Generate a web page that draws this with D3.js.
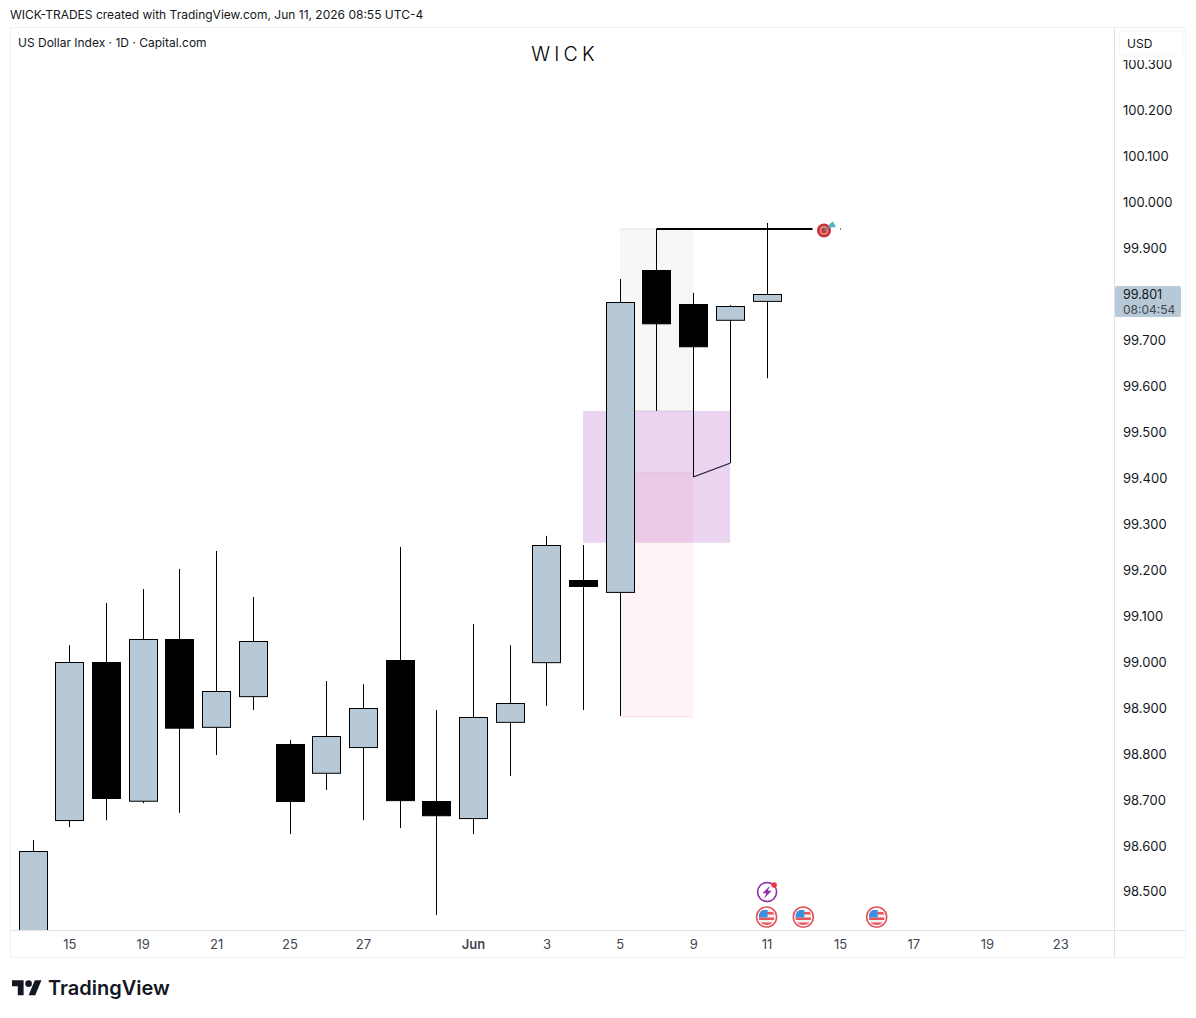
<!DOCTYPE html>
<html>
<head>
<meta charset="utf-8">
<script src="https://cdn.jsdelivr.net/npm/d3@7"></script>
<style>
body { margin: 0; background: #fff; }
text { font-family: Inter, "Noto Sans", sans-serif; }
</style>
</head>
<body>
<script>
// one entry per daily bar, 14 May onwards (future bars have no candle)
let days = ["14","15","18","19","20","21","22","25","26","27","28","29","Jun","2","3","4","5","8","9","10","11","12","15","16","17","18","19","22","23"];
let opens  = [98.40,98.654,98.998,98.696,99.048,98.857,98.924,98.820,98.757,98.813,99.003,98.696,98.659,98.868,98.998,99.177,99.151,99.852,99.778,99.743,99.784];
let highs  = [98.611,99.035,99.127,99.157,99.201,99.240,99.140,98.829,98.957,98.950,99.249,98.894,99.081,99.035,99.273,99.253,99.832,99.941,99.802,99.775,99.954];
let lows   = [98.35,98.639,98.654,98.691,98.670,98.796,98.894,98.624,98.720,98.654,98.637,98.448,98.624,98.750,98.903,98.894,98.881,99.545,99.401,99.431,99.616];
let closes = [98.587,98.998,98.702,99.048,98.855,98.935,99.044,98.696,98.837,98.898,98.698,98.665,98.879,98.909,99.253,99.164,99.782,99.736,99.686,99.773,99.799];

let priceTicks = [100.3,100.2,100.1,100.0,99.9,99.8,99.7,99.6,99.5,99.4,99.3,99.2,99.1,99.0,98.9,98.8,98.7,98.6,98.5];
let timeTickIdx = [1,3,5,7,9,12,14,16,18,20,22,24,26,28];

// drawings on the chart: [start bar, end bar, top price, bottom price]
let grayZone = [16, 18, 99.941, 99.545];
let mauveZone = [15, 19, 99.545, 99.258];
let pinkZone = [16, 18, 99.410, 98.879];
let targetPrice = 99.941;
let targetBars = [17, 21.25];
let pathBars = [18, 19];
let pathPrices = [99.401, 99.431];
let flagBars = [20, 21, 23];
let boltBar = 20;

let lastPrice = 99.801;
let countdown = "08:04:54";

let svgWidth = 1196;
let svgHeight = 1018;
let plot = { left: 11, right: 1114, top: 28, bottom: 930 };
let candleWidth = 28;

let svg = d3.select("body").append("svg")
    .attr("width", svgWidth)
    .attr("height", svgHeight)
    .style("display", "block");

let x = d3.scaleLinear().domain([0, 28]).range([32.6, 1060.2]);
let y = d3.scaleLinear().domain([98.5, 100.3]).range([891, 64]);

svg.append("text")
    .attr("x", 10).attr("y", 19)
    .attr("font-size", 12).attr("fill", "#131722")
    .text("WICK-TRADES created with TradingView.com, Jun 11, 2026 08:55 UTC-4");

svg.append("clipPath").attr("id", "plotClip").append("rect")
    .attr("x", plot.left).attr("y", plot.top)
    .attr("width", plot.right - plot.left).attr("height", plot.bottom - plot.top);

let chart = svg.append("g").attr("clip-path", "url(#plotClip)");

function zone(z, fill, stroke) {
    let x0 = Math.round(x(z[0]));
    let x1 = Math.round(x(z[1]));
    chart.append("rect")
        .attr("x", x0).attr("y", y(z[2]))
        .attr("width", x1 - x0).attr("height", y(z[3]) - y(z[2]))
        .attr("fill", fill);
    // thin edge lines on the top and bottom of the zone
    [z[2], z[3]].forEach(p => {
        chart.append("line")
            .attr("x1", x0).attr("x2", x1)
            .attr("y1", y(p)).attr("y2", y(p))
            .attr("stroke", stroke);
    });
}

zone(grayZone, "rgba(120,120,120,0.06)", "rgba(120,120,120,0.18)");
zone(pinkZone, "rgba(242,54,92,0.06)", "rgba(242,54,92,0.12)");
zone(mauveZone, "rgba(156,39,176,0.2)", "rgba(156,39,176,0)");

// candles
let bars = chart.selectAll(".bar").data(opens.map((o, i) => i)).enter().append("g").attr("class", "bar");

bars.append("line")
    .attr("x1", i => Math.round(x(i)) + 0.5).attr("x2", i => Math.round(x(i)) + 0.5)
    .attr("y1", i => y(highs[i])).attr("y2", i => y(lows[i]))
    .attr("stroke", "#000");

bars.append("rect")
    .attr("x", i => Math.round(x(i)) - candleWidth / 2 + 0.5)
    .attr("y", i => Math.round(y(Math.max(opens[i], closes[i]))) + 0.5)
    .attr("width", candleWidth)
    .attr("height", i => Math.abs(y(opens[i]) - y(closes[i])))
    .attr("fill", i => closes[i] >= opens[i] ? "#b7c9d7" : "#000")
    .attr("stroke", "#000");

// target line + dart
chart.append("line")
    .attr("x1", x(targetBars[0])).attr("x2", x(targetBars[1]))
    .attr("y1", y(targetPrice)).attr("y2", y(targetPrice))
    .attr("stroke", "#000").attr("stroke-width", 2);

let dart = chart.append("g").attr("transform", `translate(${x(targetBars[1]) + 11.5}, ${y(targetPrice) + 1.5})`);
dart.append("circle").attr("r", 7).attr("fill", "#c5343a");
dart.append("circle").attr("r", 4.4).attr("fill", "#e58a80");
dart.append("circle").attr("r", 2.6).attr("fill", "#c5343a");
dart.append("line").attr("x1", 0).attr("y1", 0).attr("x2", 8).attr("y2", -5).attr("stroke", "#5a8f98").attr("stroke-width", 1.4);
dart.append("path").attr("d", "M5,-6 L9,-9 L12,-3.5 L7,-3 Z").attr("fill", "#4fb3c4");
chart.append("rect").attr("x", x(22)).attr("y", y(targetPrice) - 0.5).attr("width", 1).attr("height", 1).attr("fill", "#000");

// small path drawing
chart.append("path")
    .attr("d", d3.line().x(d => x(d[0])).y(d => y(d[1]))(pathBars.map((b, i) => [b, pathPrices[i]])))
    .attr("fill", "none").attr("stroke", "#1d1433").attr("stroke-width", 1.2);

// event markers
flagBars.forEach(b => {
    let g = chart.append("g").attr("transform", `translate(${x(b)}, 917)`);
    g.append("circle").attr("r", 10).attr("fill", "#fff").attr("stroke", "#e8545c").attr("stroke-width", 1.6);
    g.append("clipPath").attr("id", "flag" + b).append("circle").attr("r", 8);
    let f = g.append("g").attr("clip-path", `url(#flag${b})`);
    f.append("rect").attr("x", -8).attr("y", -8).attr("width", 16).attr("height", 16).attr("fill", "#f4f0f0");
    f.append("rect").attr("x", 0).attr("y", -5).attr("width", 8).attr("height", 2.5).attr("fill", "#e8545c");
    f.append("rect").attr("x", -8).attr("y", 0.5).attr("width", 16).attr("height", 2.5).attr("fill", "#e8545c");
    f.append("rect").attr("x", -8).attr("y", 5.5).attr("width", 16).attr("height", 3).attr("fill", "#e8545c");
    f.append("rect").attr("x", -8).attr("y", -7).attr("width", 9).attr("height", 7.5).attr("fill", "#3d8fe0");
});

let bolt = chart.append("g").attr("transform", `translate(${x(boltBar) + 0.5}, 892)`);
bolt.append("circle").attr("r", 9.5).attr("fill", "#fff").attr("stroke", "#8e2aa8").attr("stroke-width", 1.6);
bolt.append("path").attr("d", "M3,-6.5 L-4.5,1.3 L-0.7,1.3 L-3,6.5 L4.5,-1.3 L0.7,-1.3 Z").attr("fill", "#8e2aa8");
bolt.append("circle").attr("cx", 7).attr("cy", -7).attr("r", 2.8).attr("fill", "#f23645");

// title and legend
svg.append("text")
    .attr("x", 18).attr("y", 47)
    .attr("font-size", 12).attr("fill", "#131722")
    .text("US Dollar Index · 1D · Capital.com");

svg.append("text")
    .attr("x", 565).attr("y", 61)
    .attr("text-anchor", "middle")
    .attr("font-size", 19.5).attr("font-weight", 300).attr("letter-spacing", 4.2).attr("fill", "#000")
    .text("WICK");

// axes
let yAxis = d3.axisRight(y)
    .tickValues(priceTicks)
    .tickSize(0)
    .tickPadding(9)
    .tickFormat(d3.format(".3f"));

let yG = svg.append("g").attr("transform", `translate(${plot.right}, 0)`).call(yAxis);
yG.select(".domain").remove();
yG.selectAll("text").attr("y", 0.8).attr("font-size", 13).attr("fill", "#131722").style("font-family", "Inter");

let xAxis = d3.axisBottom(x)
    .tickValues(timeTickIdx)
    .tickSize(0)
    .tickPadding(10)
    .tickFormat(i => days[i]);

let xG = svg.append("g").attr("transform", `translate(0, ${plot.bottom})`).call(xAxis);
xG.select(".domain").remove();
xG.selectAll("text").attr("font-size", 13).attr("fill", "#434651").style("font-family", "Inter")
    .attr("font-weight", i => days[i] === "Jun" ? 600 : 400);

// frame
svg.append("rect")
    .attr("x", 10.5).attr("y", 27.5).attr("width", 1175).attr("height", 930)
    .attr("fill", "none").attr("stroke", "#eef0f3");
svg.append("line")
    .attr("x1", plot.right + 0.5).attr("x2", plot.right + 0.5).attr("y1", 28).attr("y2", 958)
    .attr("stroke", "#e0e3eb");
svg.append("line")
    .attr("x1", 10).attr("x2", 1186).attr("y1", plot.bottom + 0.5).attr("y2", plot.bottom + 0.5)
    .attr("stroke", "#e0e3eb");

// currency box over the axis, it cuts the top off the 100.300 label
svg.append("rect")
    .attr("x", 1116).attr("y", 29).attr("width", 69).attr("height", 31)
    .attr("fill", "#fff");
svg.append("rect")
    .attr("x", 1119).attr("y", 31).attr("width", 64).attr("height", 25).attr("rx", 3)
    .attr("fill", "#fff").attr("stroke", "#f3f4f6");
svg.append("text")
    .attr("x", 1127).attr("y", 48)
    .attr("font-size", 12).attr("fill", "#131722")
    .text("USD");

// last price tag
svg.append("rect")
    .attr("x", 1115).attr("y", 286).attr("width", 66).attr("height", 31).attr("rx", 2)
    .attr("fill", "#b7c9d7");
svg.append("text")
    .attr("x", 1123).attr("y", 299)
    .attr("font-size", 12.5).attr("fill", "#131722")
    .text(d3.format(".3f")(lastPrice));
svg.append("text")
    .attr("x", 1123).attr("y", 314)
    .attr("font-size", 12).attr("fill", "#434651")
    .text(countdown);

// logo
svg.append("path")
    .attr("transform", "translate(12, 977) scale(0.83)")
    .attr("d", "M14 22H7V11H0V4h14v18zM28 22h-8l7.5-18h8L28 22z")
    .attr("fill", "#131722");
svg.append("circle")
    .attr("cx", 12 + 20 * 0.83).attr("cy", 977 + 8 * 0.83).attr("r", 4 * 0.83)
    .attr("fill", "#131722");
svg.append("text")
    .attr("x", 48).attr("y", 995)
    .attr("font-size", 20).attr("font-weight", 600).attr("fill", "#131722")
    .text("TradingView");
</script>
</body>
</html>
